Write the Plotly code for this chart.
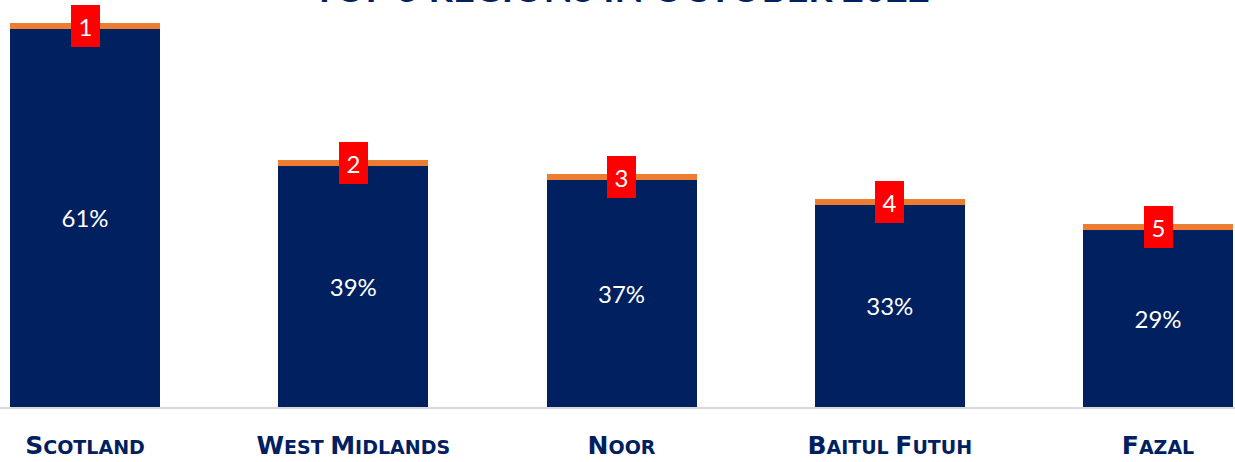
import plotly.graph_objects as go

regions = ["Scotland", "West Midlands", "Noor", "Baitul Futuh", "Fazal"]
tick_labels = [
    "<span style='font-size:25px'>S</span>COTLAND",
    "<span style='font-size:25px'>W</span>EST <span style='font-size:25px'>M</span>IDLANDS",
    "<span style='font-size:25px'>N</span>OOR",
    "<span style='font-size:25px'>B</span>AITUL <span style='font-size:25px'>F</span>UTUH",
    "<span style='font-size:25px'>F</span>AZAL",
]
share = [61.4, 39.1, 36.85, 32.8, 28.7]          # bar heights (%)
share_labels = ["61%", "39%", "37%", "33%", "29%"]
cap = [1, 1, 1, 1, 1]
ranks = ["1", "2", "3", "4", "5"]
title_text = "TOP 5 REGIONS IN OCTOBER 2022"

NAVY = "#002060"
ORANGE = "#ED7D31"
RED = "#FF0000"

x_idx = list(range(len(regions)))

fig = go.Figure()
fig.add_trace(go.Bar(
    x=x_idx, y=share, width=0.559, marker=dict(color=NAVY, line=dict(width=0)),
    text=share_labels, textposition="inside", insidetextanchor="middle",
    textangle=0, textfont=dict(color="white", size=24, family="Lato"),
    hoverinfo="skip",
))
fig.add_trace(go.Bar(
    x=x_idx, y=cap, width=0.559, marker=dict(color=ORANGE, line=dict(width=0)),
    hoverinfo="skip",
))

for i, r in enumerate(ranks):
    fig.add_annotation(
        x=i, y=share[i] + cap[i] / 2, xref="x", yref="y",
        text=r, showarrow=False, bgcolor=RED, width=29, height=42,
        borderpad=0, borderwidth=0,
        font=dict(color="white", size=24, family="Lato"),
        xanchor="center", yanchor="middle",
    )

fig.add_annotation(
    x=0.503, y=1, xref="paper", yref="paper", text="<b>" + title_text + "</b>",
    showarrow=False, xanchor="center", yanchor="bottom", yshift=-12,
    font=dict(color=NAVY, size=38, family="Lato"),
)

fig.update_layout(
    width=1235, height=462,
    margin=dict(l=0, r=0, t=0, b=55, autoexpand=False),
    barmode="stack", showlegend=False,
    plot_bgcolor="white", paper_bgcolor="white",
    xaxis=dict(
        range=[-0.317, 4.287], tickvals=x_idx, ticktext=tick_labels,
        showgrid=False, zeroline=False, showline=True, linecolor="#D9D9D9", linewidth=2,
        ticks="", ticklabelstandoff=22, automargin=False,
        tickfont=dict(family="DejaVu Sans", size=19, color=NAVY, weight="bold"),
        fixedrange=True,
    ),
    yaxis=dict(range=[0, 66.07], visible=False, fixedrange=True, automargin=False),
)

fig.write_html(
    "out.html",
    config={"displayModeBar": False},
    post_script="document.body.style.margin='0';document.body.style.overflow='hidden';",
)
